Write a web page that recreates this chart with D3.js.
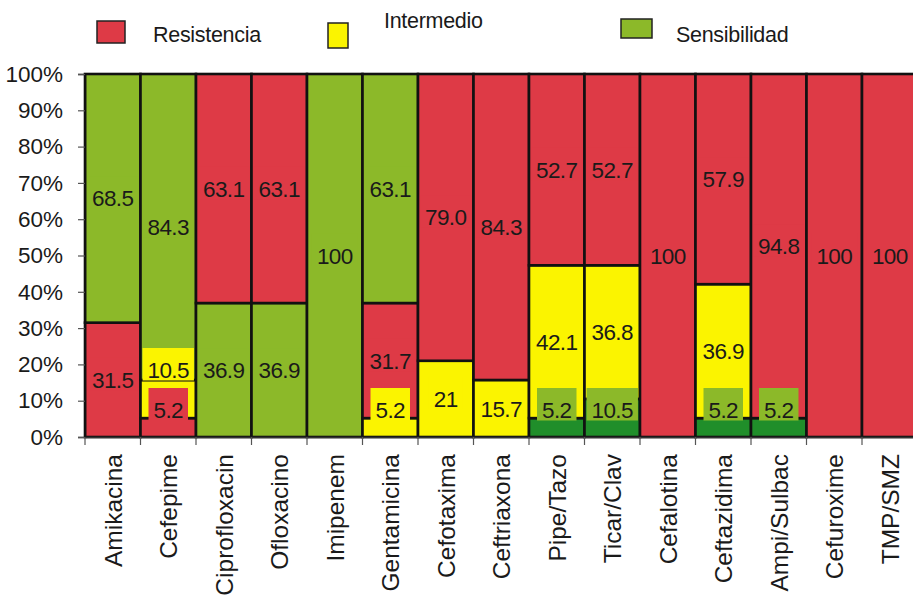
<!DOCTYPE html>
<html>
<head>
<meta charset="utf-8">
<script src="https://cdn.jsdelivr.net/npm/d3@7"></script>
<style>
  body { margin: 0; background: #fff; }
  svg { display: block; }
  text { font-family: "Liberation Sans", Arial, sans-serif; fill: #1a1a1a; }
</style>
</head>
<body>
<svg id="chart" width="913" height="596"></svg>
<script>
// Antibiotic susceptibility profile (% of isolates)
const categories = ["Amikacina", "Cefepime", "Ciprofloxacin", "Ofloxacino", "Imipenem",
  "Gentamicina", "Cefotaxima", "Ceftriaxona", "Pipe/Tazo", "Ticar/Clav",
  "Cefalotina", "Ceftazidima", "Ampi/Sulbac", "Cefuroxime", "TMP/SMZ"];
// values kept as printed in the data labels
const resistencia  = ["31.5", "5.2", "63.1", "63.1", "0", "31.7", "79.0", "84.3", "52.7", "52.7", "100", "57.9", "94.8", "100", "100"];
const intermedio   = ["0", "10.5", "0", "0", "0", "5.2", "21", "15.7", "42.1", "36.8", "0", "36.9", "0", "0", "0"];
const sensibilidad = ["68.5", "84.3", "36.9", "36.9", "100", "63.1", "0", "0", "5.2", "10.5", "0", "5.2", "5.2", "0", "0"];
const seriesNames  = ["Resistencia", "Intermedio", "Sensibilidad"];
const yTicks = [0, 10, 20, 30, 40, 50, 60, 70, 80, 90, 100];

const seriesValues = [resistencia, intermedio, sensibilidad];
const fill = { Resistencia: "#de3a46", Intermedio: "#fbf400", Sensibilidad: "#8cb929" };
const sensDark = "#208e2a";   // thin sensitivity slices at the base

const svg = d3.select("#chart");
const left = 85, bandW = 55.5;
const x = d3.scaleBand().domain(categories).range([left, left + bandW * categories.length]).padding(0);
const y = d3.scaleLinear().domain([0, 100]).range([437, 74]);

// Build stacks: each bar stacks its non-zero parts from smallest to largest
const bars = categories.map((cat, i) => {
  const parts = seriesNames.map((s, k) => ({ cat, series: s, text: seriesValues[k][i], value: +seriesValues[k][i] }))
    .filter(p => p.value > 0)
    .sort((a, b) => a.value - b.value);
  let acc = 0;
  parts.forEach(p => { p.y0 = acc; acc += p.value; p.y1 = acc; });
  // label placement: centre of slice, lifted off the base and above the label below
  let prevTop = null;
  parts.forEach(p => {
    let c = Math.min(y((p.y0 + p.y1) / 2), y(0) - 27);
    if (prevTop !== null && c + 18 > prevTop) c = prevTop - 18;
    p.ly = c;
    prevTop = c - 22;
  });
  return parts;
});
const segs = bars.flat();

// Bar slices
svg.append("g").selectAll("rect").data(segs).join("rect")
  .attr("x", d => x(d.cat))
  .attr("width", x.bandwidth())
  .attr("y", d => y(d.y1))
  .attr("height", d => y(d.y0) - y(d.y1))
  .attr("fill", d => (d.series === "Sensibilidad" && d.value < 11) ? sensDark : fill[d.series])
  .attr("stroke", "#111")
  .attr("stroke-width", 2.6);

// Data labels with filled backgrounds
const lab = svg.append("g").selectAll("g").data(segs).join("g")
  .attr("transform", d => `translate(${x(d.cat) + x.bandwidth() / 2},${d.ly})`);
lab.append("text")
  .attr("text-anchor", "middle")
  .attr("dy", "0.36em")
  .style("font-size", "22.5px")
  .style("letter-spacing", "-0.6px")
  .text(d => d.text);
lab.each(function () {
  const g = d3.select(this);
  const w = g.select("text").node().getComputedTextLength();
  g.insert("rect", "text")
    .attr("x", -w / 2 - 5).attr("width", w + 10)
    .attr("y", -22).attr("height", 32.5)
    .attr("fill", d => fill[d.series]);
});

// Y axis
const yAxis = svg.append("g").attr("transform", `translate(${left},0)`)
  .call(d3.axisLeft(y).tickValues(yTicks).tickFormat(d => d + "%").tickSize(7).tickPadding(15));
yAxis.select(".domain").attr("stroke", "#111").attr("stroke-width", 1.5);
yAxis.selectAll(".tick line").attr("stroke", "#555").attr("stroke-width", 1.2);
yAxis.selectAll("text").style("font-size", "22.5px").style("font-family", "Liberation Sans, Arial, sans-serif").attr("fill", "#1a1a1a");

// X axis: baseline, boundary ticks and rotated category names
const xAxis = svg.append("g").attr("transform", `translate(0,${y(0)})`)
  .call(d3.axisBottom(x).tickSize(0).tickPadding(0));
xAxis.select(".domain").attr("stroke", "#333").attr("stroke-width", 1.5);
xAxis.selectAll("text")
  .attr("transform", "rotate(-90)")
  .attr("x", -17).attr("y", 0).attr("dy", "0.36em")
  .attr("text-anchor", "end")
  .style("font-size", "24.5px")
  .style("font-family", "Liberation Sans, Arial, sans-serif")
  .attr("fill", "#1a1a1a");
const bounds = categories.map(c => x(c)).concat([x.range()[1]]);
svg.append("g").selectAll("line").data(bounds).join("line")
  .attr("x1", d => d).attr("x2", d => d)
  .attr("y1", y(0)).attr("y2", y(0) + 8)
  .attr("stroke", "#555").attr("stroke-width", 1.2);

// Legend
const legendItems = [
  { name: "Resistencia",  box: [97, 21, 28, 22],  tx: 153, ty: 34 },
  { name: "Intermedio",   box: [328, 23, 20, 25], tx: 384, ty: 20 },
  { name: "Sensibilidad", box: [621, 19, 31, 19], tx: 676, ty: 34 }
];
const lg = svg.append("g").selectAll("g").data(legendItems).join("g");
lg.append("rect")
  .attr("x", d => d.box[0]).attr("y", d => d.box[1])
  .attr("width", d => d.box[2]).attr("height", d => d.box[3])
  .attr("fill", d => fill[d.name]).attr("stroke", "#222").attr("stroke-width", 1.5);
lg.append("text")
  .attr("x", d => d.tx).attr("y", d => d.ty).attr("dy", "0.36em")
  .style("font-size", "21.5px")
  .style("letter-spacing", "-0.3px")
  .text(d => d.name);
</script>
</body>
</html>
